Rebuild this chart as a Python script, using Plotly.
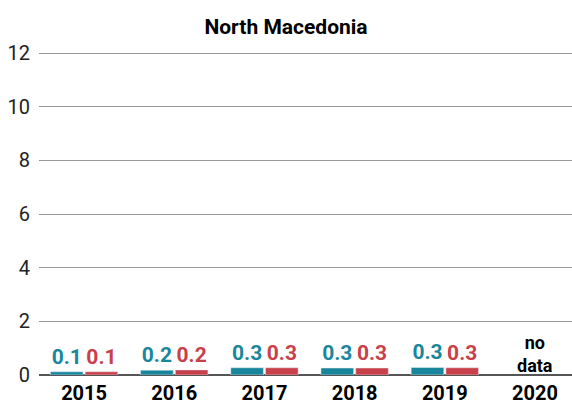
import plotly.graph_objects as go

years = ["2015", "2016", "2017", "2018", "2019", "2020"]
series_a = [0.12, 0.18, 0.27, 0.26, 0.28, None]
series_b = [0.12, 0.19, 0.27, 0.26, 0.27, None]
y_ticks = [0, 2, 4, 6, 8, 10, 12]

TEAL = "#1a869c"
RED = "#c8404a"

fig = go.Figure()
for vals, color in [(series_a, TEAL), (series_b, RED)]:
    fig.add_trace(go.Bar(
        x=years,
        y=vals,
        marker_color=color,
        texttemplate="%{y:.1f}",
        textposition="outside",
        textfont=dict(family="Roboto", size=21, color=color, weight="bold"),
        cliponaxis=False,
        showlegend=False,
    ))

# last year has no bars, just a note
fig.add_annotation(
    x=5, y=0, xref="x", yref="y", yanchor="bottom", yshift=-3,
    text="<b>no<br>data</b>", showarrow=False,
    font=dict(family="Roboto", size=18, color="black"),
)

fig.update_layout(
    width=572, height=405,
    margin=dict(l=39, r=0, t=49, b=30),
    paper_bgcolor="white", plot_bgcolor="white",
    title=dict(text="<b>North Macedonia</b>", x=0.5, xanchor="center", y=0.935, yanchor="middle",
               font=dict(family="Roboto", size=21, color="black")),
    barmode="group", bargap=0.23, bargroupgap=0.06,
    font=dict(family="Roboto"),
)
fig.update_xaxes(
    range=[-0.5, 5.41], automargin=False,
    tickfont=dict(family="Roboto", size=20, color="black", weight="bold"),
    showgrid=False, showline=False, ticks="", ticklabelstandoff=4,
)
fig.update_yaxes(
    range=[0, 12.15], tickvals=y_ticks, automargin=False,
    tickfont=dict(family="Roboto", size=20, color="#222"),
    showgrid=True, gridcolor="#999999", gridwidth=1,
    zeroline=True, zerolinecolor="#555", zerolinewidth=1.5,
    ticks="", ticklabelstandoff=8,
)

fig.write_html("out.html", config={"displayModeBar": False},
               post_script="document.body.style.margin='0';")
